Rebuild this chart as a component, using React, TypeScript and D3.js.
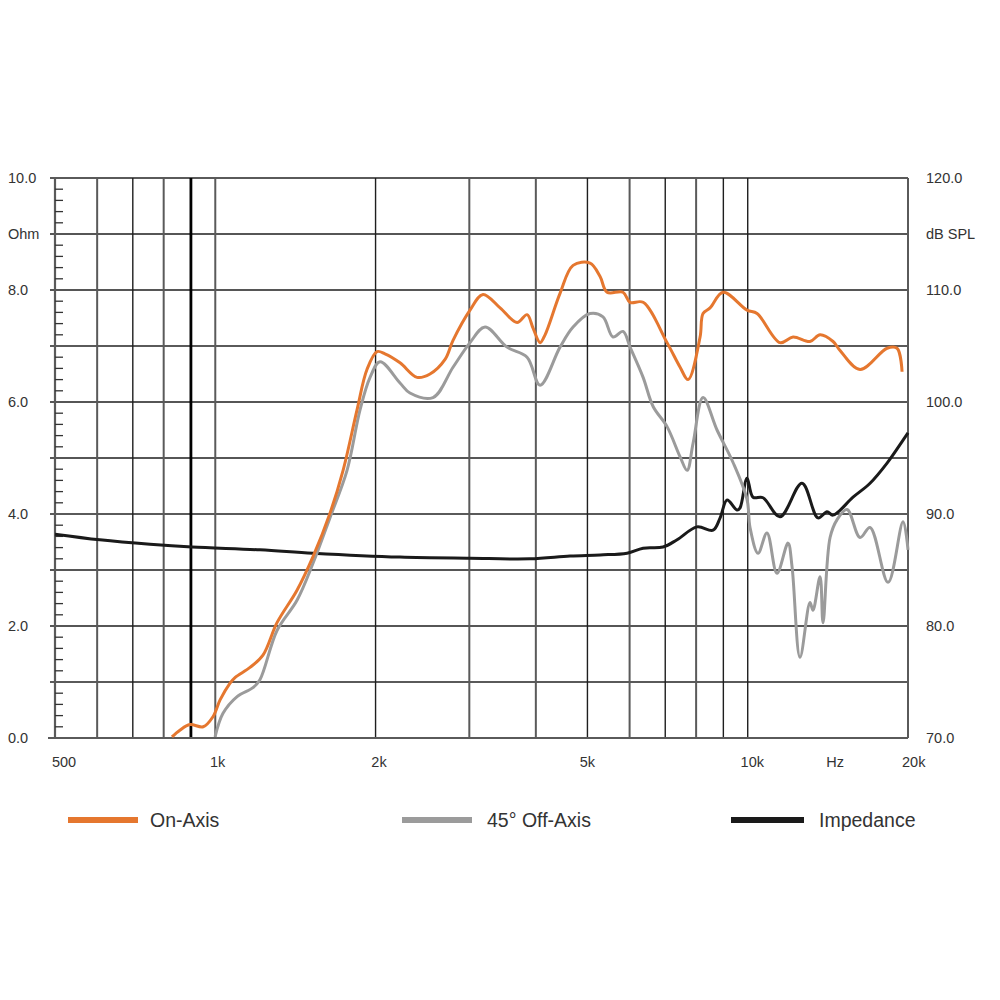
import { useEffect, useRef } from "react";
import * as d3 from "d3";

// On-Axis SPL (dB)
const onAxisFreq = [
  829, 858, 896, 949, 990, 1021, 1066, 1089, 1162, 1229, 1306, 1424, 1526,
  1643, 1738, 1846, 1927, 2013, 2083, 2223, 2393, 2531, 2701, 2796, 3009,
  3183, 3427, 3688, 3851, 3952, 4074, 4163, 4441, 4699, 5056, 5281, 5442,
  5831, 6012, 6361, 7055, 7465, 7727, 8138, 8243, 8497, 8989, 9970, 10413,
  11499, 12165, 13090, 13673, 14464, 14909, 16255, 18269, 19073, 19493,
];
const onAxisDb = [
  70.1, 70.7, 71.2, 71.0, 71.9, 73.4, 74.9, 75.4, 76.3, 77.4, 80.3, 83.2, 86.2,
  90.1, 93.9, 99.3, 102.9, 104.5, 104.3, 103.5, 102.2, 102.5, 103.8, 105.5,
  108.2, 109.6, 108.4, 107.1, 107.8, 106.6, 105.3, 106.0, 109.7, 112.2, 112.4,
  111.2, 109.8, 109.8, 108.9, 108.9, 105.3, 103.1, 102.0, 105.8, 107.9, 108.4,
  109.8, 108.2, 107.9, 105.3, 105.8, 105.4, 106.0, 105.4, 104.6, 102.9, 104.8,
  104.8, 102.7,
];

// 45° Off-Axis SPL (dB)
const offAxisFreq = [
  999, 1034, 1099, 1177, 1213, 1306, 1424, 1526, 1643, 1768, 1870, 1953, 2039,
  2223, 2321, 2564, 2796, 3009, 3211, 3531, 3851, 4074, 4441, 4699, 5056, 5348,
  5584, 5831, 6012, 6361, 6642, 7055, 7465, 7695, 7895, 8243, 8757, 9385, 9970,
  10100, 10457, 10868, 11350, 11904, 12113, 12537, 13090, 13260, 13673, 13849,
  14278, 14719, 15366, 16255, 16972, 18349, 19577, 20000,
];
const offAxisDb = [
  70.1, 72.2, 73.7, 74.5, 75.2, 79.6, 82.3, 85.6, 89.7, 93.9, 99.3, 102.2,
  103.6, 101.7, 100.8, 100.4, 103.1, 105.3, 106.7, 104.9, 104.0, 101.5, 104.9,
  106.7, 107.9, 107.6, 105.8, 106.3, 104.9, 102.2, 99.6, 97.8, 95.1, 93.9, 96.3,
  100.4, 97.5, 94.6, 91.3, 88.8, 86.5, 88.3, 84.7, 87.4, 85.3, 77.2, 82.1, 81.4,
  84.4, 80.3, 87.9, 89.5, 90.4, 87.9, 88.8, 83.9, 89.3, 86.8,
];

// Impedance (Ohm)
const impedanceFreq = [
  500, 607, 754, 904, 1213, 1526, 2223, 3009, 3901, 4638, 5281, 5934, 6361,
  6933, 7367, 8031, 8607, 8874, 9146, 9549, 9674, 9970, 10232, 10683, 11499,
  12645, 13550, 14092, 14464, 15768, 16972, 18269, 19577, 20000,
];
const impedanceOhm = [
  3.64, 3.54, 3.46, 3.41, 3.36, 3.3, 3.23, 3.21, 3.2, 3.25, 3.27, 3.3, 3.39,
  3.41, 3.54, 3.77, 3.71, 3.93, 4.25, 4.07, 4.11, 4.64, 4.3, 4.29, 3.95, 4.55,
  3.93, 4.04, 3.98, 4.3, 4.55, 4.91, 5.32, 5.45,
];

// grid + tick labels
const gridFreqs = [600, 700, 800, 900, 1000, 2000, 3000, 4000, 5000, 6000, 7000, 8000, 9000, 10000, 20000];
const gridOhms = [1, 2, 3, 4, 5, 6, 7, 8, 9, 10];
const ohmTickValues = [10, 9, 8, 6, 4, 2, 0];
const ohmTickLabels = ["10.0", "Ohm", "8.0", "6.0", "4.0", "2.0", "0.0"];
const dbTickValues = [120, 115, 110, 100, 90, 80, 70];
const dbTickLabels = ["120.0", "dB SPL", "110.0", "100.0", "90.0", "80.0", "70.0"];
const freqTickValues = [520, 1010, 2030, 5000, 10200, 14600, 20500];
const freqTickLabels = ["500", "1k", "2k", "5k", "10k", "Hz", "20k"];

const legendLabels = ["On-Axis", "45° Off-Axis", "Impedance"];
const seriesColors = ["#e5772f", "#9b9b9b", "#1a1a1a"];

export default function App() {
  const svgRef = useRef<SVGSVGElement>(null);

  useEffect(() => {
    const svg = d3.select(svgRef.current);
    svg.selectAll("*").remove();

    const left = 55;
    const right = 908;
    const top = 178;
    const bottom = 738;

    const x = d3.scaleLog().domain([500, 20000]).range([left, right]);
    const yOhm = d3.scaleLinear().domain([0, 10]).range([bottom, top]);
    const yDb = d3.scaleLinear().domain([70, 120]).range([bottom, top]);

    svg.append("rect").attr("width", 1000).attr("height", 1000).attr("fill", "#fff");

    const font = "'Liberation Sans', Arial, sans-serif";

    // horizontal grid
    const heavyOhm = new Set([1, 4, 7, 10]);
    svg
      .append("g")
      .selectAll("line")
      .data(gridOhms)
      .join("line")
      .attr("x1", left - 5)
      .attr("x2", right)
      .attr("y1", (d) => yOhm(d))
      .attr("y2", (d) => yOhm(d))
      .attr("stroke", (d) => (heavyOhm.has(d) ? "#5a5a5a" : "#1e1e1e"))
      .attr("stroke-width", (d) => (heavyOhm.has(d) ? 2.2 : 1.4));

    // vertical grid
    const heavyFreq = new Set([600, 800, 1000, 3000, 4000, 6000, 8000, 20000]);
    svg
      .append("g")
      .selectAll("line")
      .data(gridFreqs)
      .join("line")
      .attr("x1", (d) => x(d))
      .attr("x2", (d) => x(d))
      .attr("y1", top)
      .attr("y2", bottom)
      .attr("stroke", (d) => (d === 900 ? "#000" : heavyFreq.has(d) ? "#5a5a5a" : "#1e1e1e"))
      .attr("stroke-width", (d) => (d === 900 ? 2.8 : heavyFreq.has(d) ? 2 : 1.4));

    // left axis + bottom axis line
    svg.append("line").attr("x1", left).attr("x2", left).attr("y1", top).attr("y2", bottom)
      .attr("stroke", "#5a5a5a").attr("stroke-width", 2.2);
    svg.append("line").attr("x1", left - 7).attr("x2", right).attr("y1", bottom).attr("y2", bottom)
      .attr("stroke", "#5a5a5a").attr("stroke-width", 2.2);

    // minor ticks on left axis
    const minor = d3.range(0, 10.01, 0.2).filter((v) => Math.abs(v - Math.round(v)) > 0.01);
    svg
      .append("g")
      .selectAll("line")
      .data(minor)
      .join("line")
      .attr("x1", left)
      .attr("x2", left + 8)
      .attr("y1", (d) => yOhm(d))
      .attr("y2", (d) => yOhm(d))
      .attr("stroke", "#333")
      .attr("stroke-width", 1.3);

    // left labels
    svg
      .append("g")
      .selectAll("text")
      .data(ohmTickValues)
      .join("text")
      .attr("x", 8)
      .attr("y", (d) => yOhm(d))
      .attr("dy", "0.35em")
      .attr("font-family", font)
      .attr("font-size", 14.5)
      .attr("fill", "#333")
      .text((_, i) => ohmTickLabels[i]);

    // right labels
    svg
      .append("g")
      .selectAll("text")
      .data(dbTickValues)
      .join("text")
      .attr("x", 926)
      .attr("y", (d) => yDb(d))
      .attr("dy", "0.35em")
      .attr("font-family", font)
      .attr("font-size", 14.5)
      .attr("fill", "#333")
      .text((_, i) => dbTickLabels[i]);

    // bottom labels
    svg
      .append("g")
      .selectAll("text")
      .data(freqTickValues)
      .join("text")
      .attr("x", (d) => x(d))
      .attr("y", 762)
      .attr("dy", "0.35em")
      .attr("text-anchor", "middle")
      .attr("font-family", font)
      .attr("font-size", 14.5)
      .attr("fill", "#333")
      .text((_, i) => freqTickLabels[i]);

    // curves
    const dbLine = d3
      .line<[number, number]>()
      .x((d) => x(d[0]))
      .y((d) => yDb(d[1]))
      .curve(d3.curveCatmullRom.alpha(0.5));
    const ohmLine = d3
      .line<[number, number]>()
      .x((d) => x(d[0]))
      .y((d) => yOhm(d[1]))
      .curve(d3.curveCatmullRom.alpha(0.5));

    const offAxis = offAxisFreq.map((f, i) => [f, offAxisDb[i]] as [number, number]);
    const onAxis = onAxisFreq.map((f, i) => [f, onAxisDb[i]] as [number, number]);
    const imp = impedanceFreq.map((f, i) => [f, impedanceOhm[i]] as [number, number]);

    svg.append("path").attr("d", ohmLine(imp)).attr("fill", "none")
      .attr("stroke", seriesColors[2]).attr("stroke-width", 3).attr("stroke-linejoin", "round");
    svg.append("path").attr("d", dbLine(offAxis)).attr("fill", "none")
      .attr("stroke", seriesColors[1]).attr("stroke-width", 3).attr("stroke-linejoin", "round");
    svg.append("path").attr("d", dbLine(onAxis)).attr("fill", "none")
      .attr("stroke", seriesColors[0]).attr("stroke-width", 3).attr("stroke-linejoin", "round");

    // legend
    const legendX = [68, 402, 731];
    const legend = svg
      .append("g")
      .selectAll("g")
      .data(legendLabels)
      .join("g")
      .attr("transform", (_, i) => `translate(${legendX[i]},820)`);
    legend
      .append("line")
      .attr("x1", 0)
      .attr("x2", (_, i) => (i === 2 ? 73 : 70))
      .attr("stroke", (_, i) => seriesColors[i])
      .attr("stroke-width", 6);
    legend
      .append("text")
      .attr("x", (_, i) => 82 + i * 3)
      .attr("dy", "0.35em")
      .attr("font-family", font)
      .attr("font-size", 19.5)
      .attr("fill", "#333")
      .text((d) => d);
  }, []);

  return (
    <div style={{ position: "absolute", left: 0, top: 0 }}>
      <svg ref={svgRef} width="1000" height="1000" />
    </div>
  );
}
